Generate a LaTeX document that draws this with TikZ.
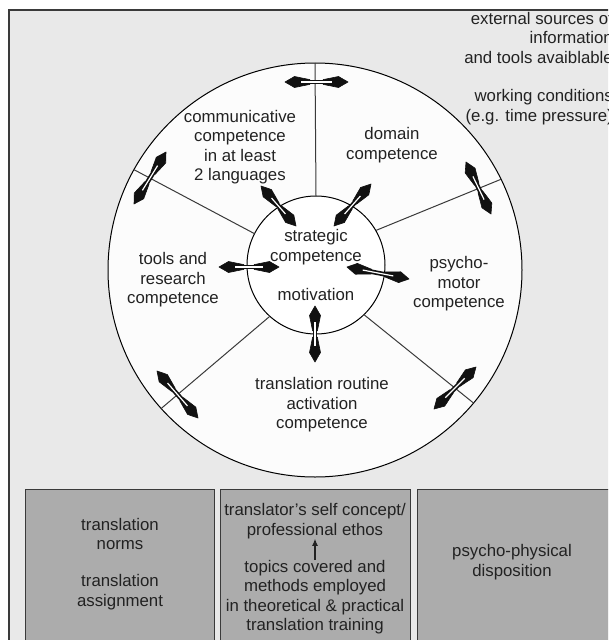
\documentclass[tikz,border=0pt]{standalone}
\usepackage{fontspec}
\setmainfont{Liberation Sans}
\usetikzlibrary{arrows.meta,calc}
\definecolor{bggray}{HTML}{E9E9E9}
\definecolor{boxgray}{HTML}{ACACAC}
\definecolor{txtc}{HTML}{222222}
\definecolor{framec}{HTML}{3A3A3A}
\definecolor{discc}{HTML}{FCFCFC}
\definecolor{arrc}{HTML}{111111}
\tikzset{
  lbl/.style={align=center, text=txtc, font=\fontsize{16.8}{19.5}\selectfont, inner sep=0pt},
  spoke/.style={draw=framec, line width=1pt},
  headfill/.style={fill=arrc, draw=arrc, line width=0.6pt, line join=round},
  shaft/.style={draw=arrc, line width=4.6pt},
  shaftin/.style={draw=white, line width=1.2pt},
  boxc/.style={draw=framec, fill=boxgray, line width=1pt, anchor=north west, minimum height=180pt, inner sep=0pt, outer sep=0pt},
}
% fat double-headed arrow between two named coordinates
\newcommand{\dblarr}[2]{%
  \draw[shaft] ($(#1)!14pt!(#2)$) -- ($(#2)!14pt!(#1)$);
  \filldraw[headfill] (#1) -- ($(#1)!11pt!30:(#2)$) -- ($(#1)!25pt!5.5:(#2)$) -- ($(#1)!25pt!-5.5:(#2)$) -- ($(#1)!11pt!-30:(#2)$) -- cycle;
  \filldraw[headfill] (#2) -- ($(#2)!11pt!30:(#1)$) -- ($(#2)!25pt!5.5:(#1)$) -- ($(#2)!25pt!-5.5:(#1)$) -- ($(#2)!11pt!-30:(#1)$) -- cycle;
  \draw[shaftin] ($(#1)!16pt!(#2)$) -- ($(#2)!16pt!(#1)$);
}
\begin{document}
\begin{tikzpicture}[x=1pt,y=-1pt]
\useasboundingbox (0,0) rectangle (608,640);
\clip (0,0) rectangle (608,640);
\fill[white] (0,0) rectangle (608,640);
\draw[framec, line width=1.5pt, fill=bggray] (9,10) rectangle (630,680);

% top-right text
\node[lbl, align=right, anchor=north east] (ext) at (613,12)
  {external sources of\\information\\and tools avaiblable\\[19pt]working conditions\\(e.g. time pressure)};

% circles
\node[draw=black, line width=1pt, circle, minimum size=414pt, inner sep=0pt, outer sep=0pt, fill=discc] (outer) at (315,270) {};
\node[draw=black, line width=1pt, circle, minimum size=138pt, inner sep=0pt, outer sep=0pt, fill=white] (inner) at (316,265) {};

% spokes
\draw[spoke] (outer.90) -- (inner.90);
\draw[spoke] (outer.151.3) -- (inner.153);
\draw[spoke] (outer.26.4) -- (inner.30);
\draw[spoke] (outer.222.2) -- (inner.228);
\draw[spoke] (outer.320.4) -- (inner.314);

% labels
\node[lbl] (comm) at (240,147) {communicative\\competence\\in at least\\2 languages};
\node[lbl] (dom) at (392,145) {domain\\competence};
\node[lbl] (strat) at (316,247) {strategic\\competence};
\node[lbl] (motiv) at (316,294) {motivation};
\node[lbl] (tools) at (173,280) {tools and\\research\\competence};
\node[lbl] (psy) at (459,284) {psycho-\\motor\\competence};
\node[lbl] (trc) at (322,405) {translation routine\\activation\\competence};

% double arrows
\coordinate (a1s) at (285,82);  \coordinate (a1e) at (348,82);
\coordinate (a2s) at (166,152); \coordinate (a2e) at (134,204);
\coordinate (a3s) at (466,162); \coordinate (a3e) at (491,214);
\coordinate (a4s) at (157,371); \coordinate (a4e) at (198,418);
\coordinate (a5s) at (476,367); \coordinate (a5e) at (434,409);
\coordinate (a6s) at (315,306); \coordinate (a6e) at (315,362);
\coordinate (a7s) at (219,267); \coordinate (a7e) at (279,267);
\coordinate (a8s) at (347,267); \coordinate (a8e) at (409,279);
\coordinate (a9s) at (261,186); \coordinate (a9e) at (296,226);
\coordinate (a10s) at (371,184); \coordinate (a10e) at (334,226);
\dblarr{a1s}{a1e}
\dblarr{a2s}{a2e}
\dblarr{a3s}{a3e}
\dblarr{a4s}{a4e}
\dblarr{a5s}{a5e}
\dblarr{a6s}{a6e}
\dblarr{a7s}{a7e}
\dblarr{a8s}{a8e}
\dblarr{a9s}{a9e}
\dblarr{a10s}{a10e}

% bottom boxes
\node[boxc, minimum width=189pt] (b1) at (25,489) {};
\node[boxc, minimum width=190pt] (b2) at (220,489) {};
\node[boxc, minimum width=200pt] (b3) at (417,489) {};

\node[lbl] (norms) at (120,534) {translation\\norms};
\node[lbl] (assign) at (120,592) {translation\\assignment};
\node[lbl] (self) at (315,521) {translator’s self concept/\\professional ethos};
\node[lbl] (topics) at (315,597) {topics covered and\\methods employed\\in theoretical \& practical\\translation training};
\node[lbl] (pphys) at (512,562) {psycho-physical\\disposition};
\draw[line width=1.1pt, txtc, -{Latex[length=7pt,width=6pt]}] (topics.north -| self.south) -- (self.south);
\end{tikzpicture}
\end{document}
